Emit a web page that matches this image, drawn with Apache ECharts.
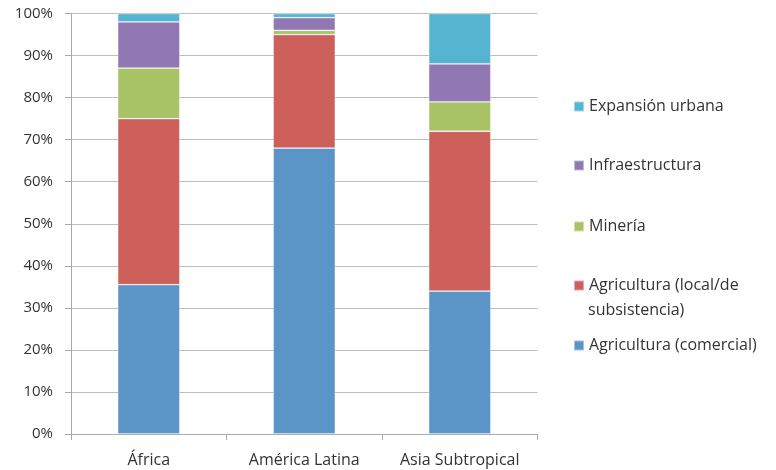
<!DOCTYPE html>
<html>
<head>
<meta charset="utf-8">
<script src="https://cdn.jsdelivr.net/npm/echarts@6/dist/echarts.min.js"></script>
<style>
html,body{margin:0;padding:0;background:#fff;}
#chart{width:776px;height:470px;}
</style>
</head>
<body>
<div id="chart"></div>
<script>
const categories = ['África', 'América Latina', 'Asia Subtropical'];
const seriesNames = ['Agricultura (comercial)', 'Agricultura (local/de subsistencia)', 'Minería', 'Infraestructura', 'Expansión urbana'];
const agriComercial = [35.5, 68, 34];
const agriLocal = [39.5, 27, 38];
const mineria = [12, 1, 7];
const infraestructura = [11, 3, 9];
const expansionUrbana = [2, 1, 12];
const colors = ['#5B94C7', '#CD605B', '#A8C366', '#9178B3', '#55B5D0'];

const FONT = 'Open Sans';
const TXT = '#333';
const values = [agriComercial, agriLocal, mineria, infraestructura, expansionUrbana];

const chart = echarts.init(document.getElementById('chart'));

const legendTops = [335, 275, 216, 155, 96];
const legends = seriesNames.map((n, i) => ({
  data: [n],
  orient: 'vertical',
  left: 573,
  top: legendTops[i],
  padding: 0,
  itemWidth: 10,
  itemHeight: 10,
  itemGap: 0,
  selectedMode: false,
  icon: 'rect',
  formatter: (name) => name === 'Agricultura (local/de subsistencia)' ? 'Agricultura (local/de' : name,
  textStyle: { fontFamily: FONT, fontSize: 16, lineHeight: 18, color: TXT, padding: [3, 0, 0, 0] }
}));

chart.setOption({
  animation: false,
  color: colors,
  textStyle: { fontFamily: FONT },
  grid: { left: 71, top: 13.5, width: 466.5, height: 420.5 },
  legend: legends,
  graphic: [{
    type: 'text',
    x: 588,
    y: 310,
    style: { text: 'subsistencia)', fill: TXT, font: '16px "Open Sans"', verticalAlign: 'middle' }
  }],
  xAxis: {
    type: 'category',
    data: categories,
    axisLine: { lineStyle: { color: '#aaaaaa', width: 1 } },
    axisTick: { show: true, length: 6, alignWithLabel: false, lineStyle: { color: '#aaaaaa' } },
    axisLabel: { margin: 17, fontSize: 16, lineHeight: 18, color: TXT, fontFamily: FONT }
  },
  yAxis: {
    type: 'value',
    min: 0,
    max: 100,
    interval: 10,
    axisLine: { show: true, lineStyle: { color: '#aaaaaa', width: 1 } },
    axisTick: { show: true, length: 6, lineStyle: { color: '#aaaaaa' } },
    splitLine: { lineStyle: { color: '#bdbdbd', width: 1 } },
    axisLabel: { margin: 18, fontSize: 15, color: TXT, fontFamily: FONT, formatter: '{value}%', padding: [4, 0, 0, 0] }
  },
  series: seriesNames.map((n, i) => ({
    name: n,
    type: 'bar',
    stack: 'total',
    barWidth: '40%',
    data: values[i],
    itemStyle: { color: colors[i], borderColor: 'rgba(255,255,255,0.45)', borderWidth: 0.8 }
  }))
});
</script>
</body>
</html>
